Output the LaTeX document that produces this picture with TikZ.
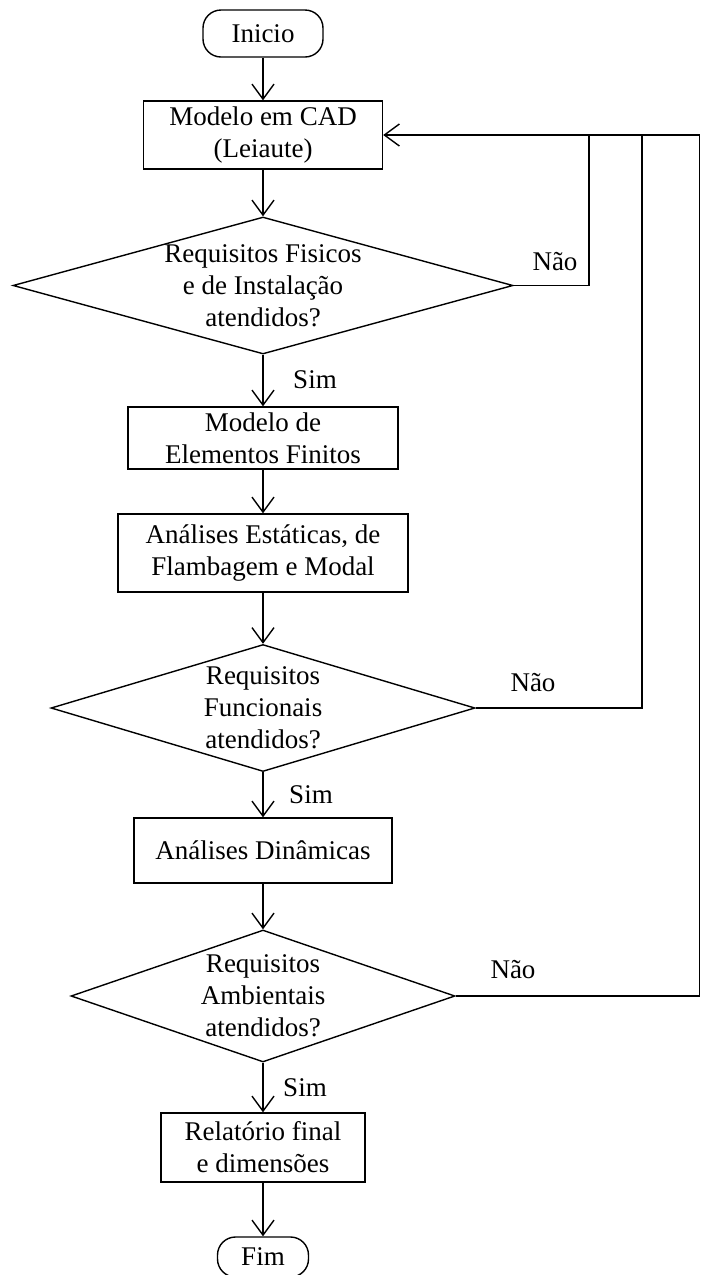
\documentclass[tikz,border=0pt]{standalone}
\usepackage{fontspec}
\setmainfont{Liberation Serif}
\usetikzlibrary{shapes.geometric,arrows.meta}
\newcommand{\flowfont}{\fontsize{27bp}{32bp}\selectfont}
\tikzset{
  base/.style={draw, line width=1.4bp, align=center, inner sep=0pt, font=\flowfont},
  proc/.style={base, rectangle},
  term/.style={base, rectangle, rounded corners=18bp},
  dec/.style={draw, line width=1.4bp, diamond, inner sep=0pt},
  lbl/.style={inner sep=0pt, align=center, font=\flowfont},
  flow/.style={line width=1.4bp, -{Straight Barb[length=15bp,width=22bp,line width=1.4bp]}},
  link/.style={line width=1.4bp}
}
\begin{document}
\begin{tikzpicture}[x=1bp,y=-1bp]
\useasboundingbox (0,0) rectangle (701,1275);
% nodes (all on the axis x = 263)
\node[term, minimum width=120bp, minimum height=47bp] (ini) at (263,33.5) {Inicio};
\node[proc, minimum width=239bp, minimum height=68bp] (cad) at (263,135) {Modelo em CAD\\(Leiaute)};
\node[dec, minimum width=500bp, minimum height=137bp] (d1) at (263,285.5) {};
\node[lbl] (d1t) at (d1.center) {Requisitos Fisicos\\e de Instalação\\atendidos?};
\node[proc, minimum width=270bp, minimum height=62bp] (fem) at (263,438) {Modelo de\\Elementos Finitos};
\node[proc, minimum width=290bp, minimum height=78bp] (est) at (263,553) {Análises Estáticas, de\\Flambagem e Modal};
\node[dec, minimum width=424bp, minimum height=127bp] (d2) at (263,708) {};
\node[lbl] (d2t) at (d2.center) {Requisitos\\Funcionais\\atendidos?};
\node[proc, minimum width=258bp, minimum height=65bp] (din) at (263,850.5) {Análises Dinâmicas};
\node[dec, minimum width=384bp, minimum height=132bp] (d3) at (263,996) {};
\node[lbl] (d3t) at (d3.center) {Requisitos\\Ambientais\\atendidos?};
\node[proc, minimum width=204bp, minimum height=69bp] (rel) at (263,1147.5) {Relatório final\\e dimensões};
\node[term, minimum width=91bp, minimum height=40bp] (fim) at (263,1257) {Fim};
% labels
\node[lbl] (s1) at (315,380) {Sim};
\node[lbl] (s2) at (311,795) {Sim};
\node[lbl] (s3) at (305,1088) {Sim};
\node[lbl] (n1) at (555,262) {Não};
\node[lbl] (n2) at (533,683) {Não};
\node[lbl] (n3) at (513,970) {Não};
% junction coordinates
\coordinate (j1) at (589,135);
\coordinate (j2) at (642,135);
\coordinate (j3) at (699.3,135);
% main flow
\draw[flow] (ini.south) -- (cad.north);
\draw[flow] (cad.south) -- (d1.north);
\draw[flow] (d1.south) -- (fem.north);
\draw[flow] (fem.south) -- (est.north);
\draw[flow] (est.south) -- (d2.north);
\draw[flow] (d2.south) -- (din.north);
\draw[flow] (din.south) -- (d3.north);
\draw[flow] (d3.south) -- (rel.north);
\draw[flow] (rel.south) -- (fim.north);
% return loops
\draw[flow] (d3.east) -| (j3) -- (cad.east);
\draw[link] (d1.east) -| (j1);
\draw[link] (d2.east) -| (j2);
\end{tikzpicture}
\end{document}
